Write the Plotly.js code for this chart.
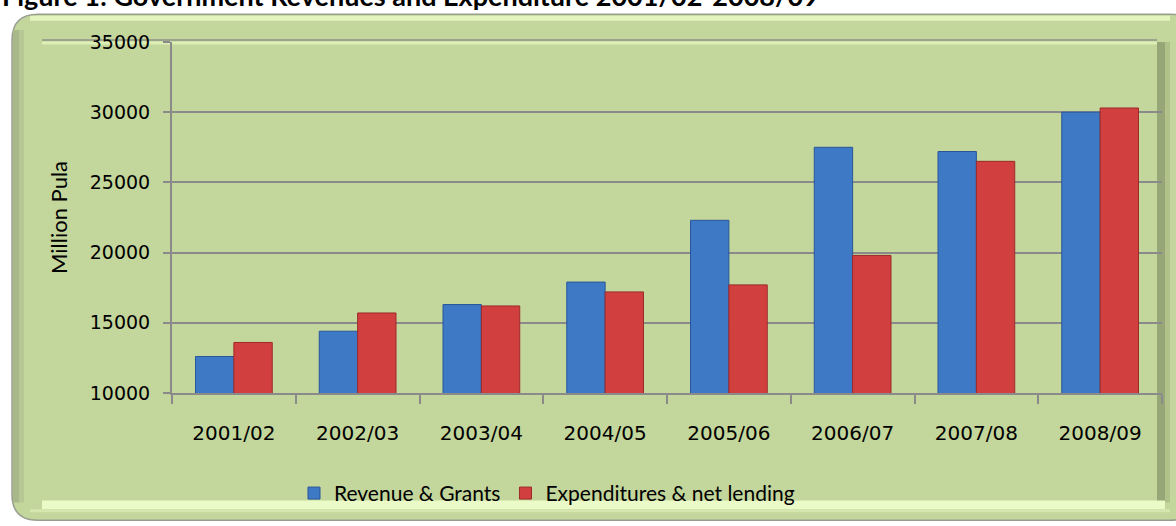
<!DOCTYPE html>
<html>
<head>
<meta charset="utf-8">
<script src="https://cdn.plot.ly/plotly-3.0.1.min.js"></script>
<style>html,body{margin:0;padding:0;background:#fff;}#chart{width:1176px;height:526px;}</style>
</head>
<body>
<div id="chart"></div>
<script>
const categories = ["2001/02","2002/03","2003/04","2004/05","2005/06","2006/07","2007/08","2008/09"];
const revenueGrants = [12600, 14400, 16300, 17900, 22300, 27500, 27200, 30000];
const expenditureNetLending = [13600, 15700, 16200, 17200, 17700, 19800, 26500, 30300];
const seriesNames = ["Revenue & Grants", "Expenditures & net lending"];
const yTickValues = [10000, 15000, 20000, 25000, 30000, 35000];
const chartTitle = "Figure 1: Government Revenues and Expenditure 2001/02-2008/09";
const yTitle = "Million Pula";

// layout geometry (pixels)
const W = 1176, H = 526;
const M = {l: 172, r: 14, t: 42, b: 131};
const PW = W - M.l - M.r, PH = H - M.t - M.b;
const px = x => (x - M.l) / PW;
const py = y => (H - M.b - y) / PH;

function roundRect(x0, y0, x1, y1, r) {
  const X0 = px(x0), X1 = px(x1), Y0 = py(y0), Y1 = py(y1);
  const rx = r / PW, ry = r / PH;
  return `M ${X0 + rx} ${Y0} L ${X1 - rx} ${Y0} Q ${X1} ${Y0} ${X1} ${Y0 - ry} ` +
         `L ${X1} ${Y1 + ry} Q ${X1} ${Y1} ${X1 - rx} ${Y1} L ${X0 + rx} ${Y1} ` +
         `Q ${X0} ${Y1} ${X0} ${Y1 + ry} L ${X0} ${Y0 - ry} Q ${X0} ${Y0} ${X0 + rx} ${Y0} Z`;
}
function rect(x0, y0, x1, y1, fill) {
  return {type: 'rect', xref: 'paper', yref: 'paper', x0: px(x0), x1: px(x1), y0: py(y0), y1: py(y1),
          fillcolor: fill, line: {width: 0}, layer: 'below'};
}
function hline(x0, x1, y, color, w) {
  return {type: 'line', xref: 'paper', yref: 'paper', x0: px(x0), x1: px(x1), y0: py(y), y1: py(y),
          line: {color: color, width: w}, layer: 'below'};
}

const shapes = [
  {type: 'path', xref: 'paper', yref: 'paper', path: roundRect(12, 14, 1196, 523, 26),
   fillcolor: '#c3d69b', line: {color: '#9a9e92', width: 1.5}, layer: 'below'},
  hline(30, 1170, 18, '#e3f4bd', 5),
  rect(13, 30, 19, 505, '#a8b888'),
  rect(19, 30, 24, 505, '#b6c893'),
  hline(42, 1157, 40, '#8e9288', 1.5),
  hline(42, 1157, 43, '#dcefb6', 3),
  rect(1157, 42, 1165, 505, '#97a676'),
  rect(1165, 42, 1170, 505, '#b0c18a'),
  rect(42, 503, 1165, 512, '#eafbc8'),
  rect(30, 512, 1170, 515, '#d5e7ae')
];

const traces = [
  {type: 'bar', name: seriesNames[0], x: categories, y: revenueGrants,
   marker: {color: '#3d79c4', line: {color: '#28569a', width: 1}}},
  {type: 'bar', name: seriesNames[1], x: categories, y: expenditureNetLending,
   marker: {color: '#d23f3f', line: {color: '#9c2a2a', width: 1}}}
];

const layout = {
  width: W, height: H,
  margin: M,
  paper_bgcolor: '#ffffff',
  plot_bgcolor: 'rgba(0,0,0,0)',
  barmode: 'group',
  bargap: 0.38,
  bargroupgap: 0,
  showlegend: true,
  legend: {orientation: 'h', x: px(294), xanchor: 'left', y: py(496), yanchor: 'middle',
           bgcolor: 'rgba(0,0,0,0)', font: {family: 'Lato, sans-serif', size: 21, color: '#000'},
           itemwidth: 30, traceorder: 'normal'},
  xaxis: {
    type: 'category', showgrid: false, showline: true, linecolor: '#8a8a8a', linewidth: 2,
    ticks: 'outside', tickson: 'boundaries', ticklen: 9, tickcolor: '#8a8a8a', tickwidth: 2,
    ticklabelstandoff: 21,
    tickfont: {family: 'DejaVu Sans, sans-serif', size: 20, color: '#000'},
    fixedrange: true
  },
  yaxis: {
    range: [10000, 35000], tickvals: yTickValues, ticktext: yTickValues.map(String),
    showgrid: true, gridcolor: '#8a8a8a', gridwidth: 2,
    showline: true, linecolor: '#8a8a8a', linewidth: 2,
    ticks: 'outside', ticklen: 7, tickcolor: '#8a8a8a', tickwidth: 2,
    ticklabelstandoff: 9, zeroline: false,
    tickfont: {family: 'DejaVu Sans, sans-serif', size: 19, color: '#000'},
    title: {text: yTitle, standoff: 16, font: {family: 'Lato, sans-serif', size: 22, color: '#000'}},
    fixedrange: true
  },
  shapes: shapes,
  annotations: [
    {text: '<b>' + chartTitle + '</b>', xref: 'paper', yref: 'paper', x: px(0), xanchor: 'left',
     y: py(14), yanchor: 'bottom', showarrow: false,
     font: {family: 'Lato, sans-serif', size: 27, color: '#000'}}
  ]
};

Plotly.newPlot('chart', traces, layout, {displayModeBar: false, staticPlot: true});
</script>
</body>
</html>
